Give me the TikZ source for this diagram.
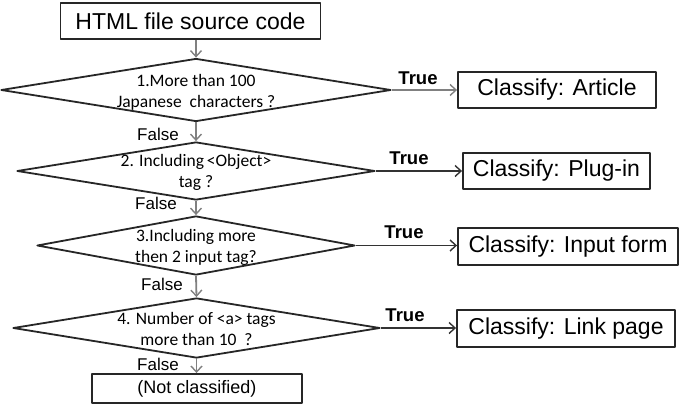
\documentclass[tikz,border=0pt]{standalone}
\usepackage{fontspec}
\setmainfont{Liberation Sans}
\newfontfamily\condfont{Carlito}
\usetikzlibrary{arrows.meta,shapes.geometric}

\begin{document}
\begin{tikzpicture}[x=1pt,y=-1pt,>={Straight Barb[length=6pt,width=11pt,line width=1.4pt]},line join=round,
  box/.style={draw=black!85,line width=1.9pt,inner sep=0pt,font=\fontsize{23}{26}\selectfont},
  cond/.style={draw=black!85,line width=1.8pt,diamond,inner sep=0pt},
  condtext/.style={align=center,font=\condfont\fontsize{17.5}{21}\selectfont},
  flow/.style={->,line width=1.8pt,black!50},
  yes/.style={->,line width=1.8pt,black!80},
  falsetext/.style={font=\fontsize{17}{19}\selectfont,inner sep=0pt},
  truetext/.style={font=\bfseries\fontsize{18.5}{20}\selectfont,inner sep=0pt}]
\useasboundingbox (0,0) rectangle (685,409);
\node[box,minimum width=260,minimum height=36] (src) at (190.5,21) {HTML file source code};
\node[cond,minimum width=390,minimum height=63] (d1) at (196,90) {};
\node[condtext] (t1) at (196,92) {1.More than 100\\Japanese\ \ characters ?};
\node[cond,minimum width=358,minimum height=58] (d2) at (196,171) {};
\node[condtext] (t2) at (196,172) {2. Including\,<Object>\\tag ?};
\node[cond,minimum width=318,minimum height=59] (d3) at (196,245.5) {};
\node[condtext] (t3) at (196,247) {3.Including more\\then 2 input tag?};
\node[cond,minimum width=367,minimum height=60] (d4) at (196.5,328) {};
\node[condtext] (t4) at (196.5,329) {4. Number of <a> tags\\more than 10\ \ ?};
\node[box,minimum width=210,minimum height=29,font=\fontsize{18}{20}\selectfont] (nc) at (197,388.5) {(Not classified)};
\node[box,minimum width=198,minimum height=36] (art) at (557,90) {Classify: Article};
\node[box,minimum width=187,minimum height=36] (plug) at (556.5,171) {Classify: Plug-in};
\node[box,minimum width=220,minimum height=37] (inp) at (568,246.5) {Classify: Input form};
\node[box,minimum width=218,minimum height=37] (link) at (566,328.5) {Classify: Link page};
% false branches
\draw[flow] (src.south -| d1.north) -- (d1.north);
\draw[flow] (d1.south) -- (d2.north);
\draw[flow] (d2.south) -- (d3.north);
\draw[flow] (d3.south) -- (d4.north);
\draw[flow] (d4.south) -- (d4.south |- nc.north);
\node[falsetext] (f1) at (158,134) {False};
\node[falsetext] (f2) at (156,203) {False};
\node[falsetext] (f3) at (162,284) {False};
\node[falsetext] (f4) at (158,364) {False};
% true branches
\draw[flow] (d1.east) -- (art.west |- d1.east);
\draw[yes] (d2.east) -- (plug.west |- d2.east);
\draw[yes] (d3.east) -- (inp.west |- d3.east);
\draw[yes] (d4.east) -- (link.west |- d4.east);
\node[truetext] (v1) at (418,78) {True};
\node[truetext] (v2) at (409,158) {True};
\node[truetext] (v3) at (404,232) {True};
\node[truetext] (v4) at (405,315) {True};
\end{tikzpicture}
\end{document}
